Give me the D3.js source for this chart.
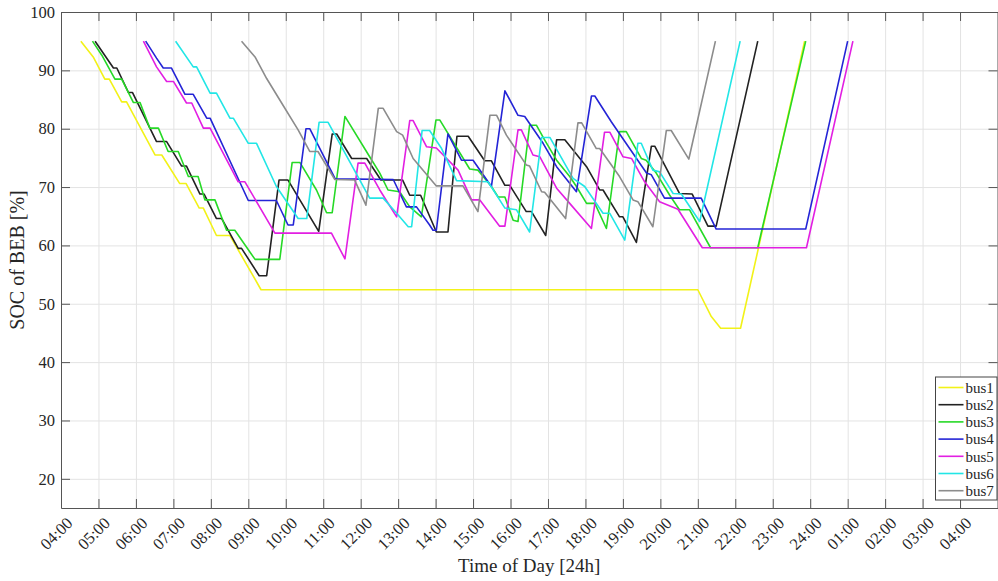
<!DOCTYPE html>
<html>
<head>
<meta charset="utf-8">
<script src="https://cdn.jsdelivr.net/npm/d3@7"></script>
<style>
  html, body { margin: 0; padding: 0; background: #fff; }
  svg { display: block; font-family: "Liberation Serif", "Times New Roman", serif; }
</style>
</head>
<body>
<div id="chart"></div>
<script>
///////////////////////////////////////////////////////////////////////////////
//////////////////// DATA /////////////////////////////////////////////////////
///////////////////////////////////////////////////////////////////////////////

// [hour of day (past 24 = next day), SOC %]
var bus1 = [[4.53,95],[4.86,92.3],[5.17,88.5],[5.29,88.5],[5.62,84.6],[5.75,84.6],
  [6.51,75.5],[6.69,75.5],[7.17,70.6],[7.34,70.6],[7.69,66.4],[7.80,66.4],
  [8.15,61.7],[8.51,61.7],[9.34,52.4],[21.0,52.4],[21.36,47.8],[21.61,45.8],
  [22.14,45.8],[23.85,95]];

var bus2 = [[4.91,95],[5.40,90.4],[5.49,90.4],[5.80,86.2],[5.91,86.2],[6.55,77.8],
  [6.82,77.8],[7.22,73.6],[7.35,73.6],[7.71,68.8],[7.82,68.8],[8.15,64.6],[8.29,64.6],
  [8.73,59.5],[8.82,59.5],[9.29,54.8],[9.49,54.8],[9.82,71.2],[10.06,71.2],[10.88,62.4],
  [11.24,79.1],[11.36,79.1],[11.76,74.9],[12.16,74.9],[12.54,71.2],[13.12,71.2],
  [13.31,68.6],[13.60,68.6],[14.02,62.3],[14.33,62.3],[14.57,78.7],[14.87,78.7],
  [15.31,74.5],[15.49,74.5],[15.85,70.3],[15.98,70.3],[16.42,65.8],[16.56,65.8],
  [16.94,61.7],[17.23,78.1],[17.45,78.1],[18.03,73.5],[18.38,69.5],[18.47,69.5],
  [18.91,64.9],[19.00,64.9],[19.36,60.5],[19.76,77.0],[19.85,77.0],[20.51,68.9],
  [20.85,68.8],[21.27,63.3],[21.49,63.3],[22.60,95]];

var bus3 = [[4.84,95],[5.09,92.6],[5.44,88.5],[5.62,88.5],[5.93,84.5],[6.11,84.5],
  [6.37,80.1],[6.60,80.1],[6.86,76.1],[7.13,76.1],[7.40,71.8],[7.66,71.8],[7.84,67.8],
  [8.11,67.8],[8.42,62.6],[8.64,62.6],[9.18,57.6],[9.84,57.6],[10.17,74.2],[10.38,74.2],
  [10.82,69.5],[11.09,65.6],[11.24,65.6],[11.58,82.1],[12.24,75.2],[12.51,72.4],
  [12.73,69.5],[13.04,69.2],[13.31,66.6],[13.62,64.9],[14.01,81.5],[14.11,81.5],
  [14.91,73.1],[15.13,72.9],[15.49,70.1],[15.67,68.3],[15.85,68.3],[16.07,64.3],
  [16.20,64.1],[16.51,80.6],[16.69,80.6],[16.91,78.1],[17.23,74.6],[17.58,71.8],
  [17.76,70.1],[18.03,67.2],[18.25,67.2],[18.56,62.9],[18.91,79.5],[19.09,79.5],
  [19.49,74.9],[19.62,74.6],[19.89,72.4],[20.25,68.6],[20.51,66.1],[20.78,66.1],
  [21.34,59.6],[22.60,59.6],[23.88,95]];

var bus4 = [[6.26,95],[6.55,92.1],[6.73,90.4],[6.95,90.4],[7.31,85.9],[7.53,85.9],
  [7.89,81.8],[7.98,81.8],[9.00,67.7],[9.75,67.7],[10.06,63.5],[10.20,63.5],[10.54,80.0],
  [10.64,80.0],[11.32,71.4],[12.87,71.3],[13.22,66.6],[13.49,66.6],[13.84,63.5],
  [13.93,62.6],[14.02,62.6],[14.33,79.1],[14.69,74.6],[15.00,74.6],[15.49,70.1],
  [15.85,86.5],[16.20,82.3],[16.38,82.1],[16.87,77.5],[17.23,73.5],[17.76,69.2],
  [18.16,85.6],[18.25,85.6],[18.69,81.2],[19.18,76.6],[19.63,72.4],[19.76,72.1],
  [20.11,68.1],[21.09,68.1],[21.49,62.8],[23.88,62.8],[25.0,95]];

var bus5 = [[6.20,95],[6.55,90.6],[6.82,88.1],[7.00,88.1],[7.35,84.4],[7.49,84.4],
  [7.80,80.1],[7.98,80.1],[8.73,70.9],[8.91,70.9],[9.71,62.1],[11.22,62.1],[11.58,57.7],
  [11.93,74.1],[12.11,74.1],[12.51,69.5],[12.96,64.9],[13.31,81.4],[13.40,81.4],
  [13.76,76.9],[14.02,76.7],[14.60,72.9],[14.96,67.8],[15.18,67.8],[15.71,63.3],
  [15.85,63.3],[16.20,79.8],[16.29,79.8],[16.60,75.5],[16.78,75.2],[17.23,69.8],
  [17.58,67.2],[18.16,62.9],[18.51,79.4],[18.65,79.4],[19.00,75.2],[19.23,74.9],
  [19.58,70.9],[19.98,67.5],[20.47,66.2],[21.12,59.6],[23.90,59.6],[25.14,95]];

var bus6 = [[7.06,95],[7.53,90.6],[7.62,90.6],[7.98,86.1],[8.15,86.1],[8.51,81.8],
  [8.60,81.8],[9.00,77.5],[9.22,77.5],[9.75,70.1],[10.33,64.6],[10.56,64.6],[10.89,81.1],
  [11.13,81.1],[11.49,76.9],[12.24,68.1],[12.60,68.1],[12.96,65.5],[13.27,63.2],
  [13.36,63.2],[13.64,79.7],[13.84,79.7],[14.16,76.6],[14.56,71.1],[15.40,70.9],
  [15.85,66.4],[16.16,66.1],[16.51,62.3],[16.83,78.5],[17.05,78.5],[17.67,71.5],
  [17.98,70.1],[18.47,65.5],[18.65,65.5],[19.05,60.9],[19.40,77.5],[19.49,77.5],
  [19.80,72.9],[19.98,72.6],[20.34,68.9],[20.56,68.8],[21.05,64.1],[22.13,95]];

var bus7 = [[8.82,95],[9.18,92.3],[9.49,88.6],[9.89,84.4],[10.33,79.8],[10.64,76.1],
  [10.86,76.1],[11.31,71.3],[11.84,71.2],[12.14,66.9],[12.47,83.5],[12.60,83.5],
  [12.96,79.5],[13.12,78.9],[13.40,74.9],[14.02,70.2],[14.73,70.2],[15.13,65.8],
  [15.45,82.3],[15.63,82.3],[15.89,78.9],[16.42,73.8],[16.51,73.6],[16.83,69.2],
  [16.91,69.1],[17.47,64.6],[17.80,81.0],[17.90,81.0],[18.29,76.6],[18.38,76.6],
  [18.91,71.8],[19.27,67.8],[19.40,67.5],[19.80,63.2],[20.16,79.7],[20.29,79.7],
  [20.76,74.8],[21.47,95]];

var busNames  = ["bus1", "bus2", "bus3", "bus4", "bus5", "bus6", "bus7"];
var busColors = ["#f2f218", "#222222", "#26d926", "#2424d6", "#e21fe2", "#22e6e6", "#8c8c8c"];
var busData   = [bus1, bus2, bus3, bus4, bus5, bus6, bus7];

var xTicks = d3.range(4, 29);
var xTickLabels = ["04:00","05:00","06:00","07:00","08:00","09:00","10:00","11:00",
  "12:00","13:00","14:00","15:00","16:00","17:00","18:00","19:00","20:00","21:00",
  "22:00","23:00","24:00","01:00","02:00","03:00","04:00"];
var yTicks = [20, 30, 40, 50, 60, 70, 80, 90, 100];

///////////////////////////////////////////////////////////////////////////////
//////////////////// CHART ////////////////////////////////////////////////////
///////////////////////////////////////////////////////////////////////////////

var W = 998, H = 581;
// plot box (window.top is reserved, so prefixed names)
var plotLeft = 61, plotRight = 997.5, plotTop = 12, plotBottom = 508;

var svg = d3.select("#chart").append("svg")
    .attr("width", W)
    .attr("height", H);

var x = d3.scaleLinear().domain([4, 29]).range([plotLeft, plotRight]);
var y = d3.scaleLinear().domain([15, 100]).range([plotBottom, plotTop]);

// grid
svg.append("g")
    .attr("transform", "translate(0," + plotBottom + ")")
    .call(d3.axisBottom(x).tickValues(xTicks).tickSize(-(plotBottom - plotTop)).tickFormat(""))
    .call(function(g) {
      g.select(".domain").remove();
      g.selectAll("line").attr("stroke", "#e3e3e3");
    });
svg.append("g")
    .attr("transform", "translate(" + plotLeft + ",0)")
    .call(d3.axisLeft(y).tickValues(yTicks).tickSize(-(plotRight - plotLeft)).tickFormat(""))
    .call(function(g) {
      g.select(".domain").remove();
      g.selectAll("line").attr("stroke", "#e3e3e3");
    });

// lines
var line = d3.line()
    .x(function(d) { return x(d[0]); })
    .y(function(d) { return y(d[1]); });

svg.append("g").selectAll("path")
    .data(busData)
    .enter().append("path")
      .attr("d", line)
      .attr("fill", "none")
      .attr("stroke", function(d, i) { return busColors[i]; })
      .attr("stroke-width", 1.6)
      .attr("stroke-linejoin", "round");

// axes (ticks inside, box all round)
var axisColor = "#555";
function styleAxis(g) {
  g.select(".domain").attr("stroke", axisColor);
  g.selectAll(".tick line").attr("stroke", axisColor);
  g.selectAll(".tick text").attr("fill", "#262626").style("font-size", "16.5px")
    .style("font-family", "Liberation Serif, serif");
}

var xAxis = svg.append("g")
    .attr("transform", "translate(0," + plotBottom + ")")
    .call(d3.axisBottom(x).tickValues(xTicks).tickSizeInner(-9).tickSizeOuter(0)
      .tickFormat(function(d, i) { return xTickLabels[i]; }))
    .call(styleAxis);
xAxis.selectAll(".tick text")
    .attr("text-anchor", "end")
    .attr("transform", "translate(8,12) rotate(-45)")
    .attr("dy", "0.35em")
    .attr("y", 0)
    .attr("x", 0);

svg.append("g")
    .attr("transform", "translate(0," + plotTop + ")")
    .call(d3.axisTop(x).tickValues(xTicks).tickSizeInner(-9).tickSizeOuter(0).tickFormat(""))
    .call(styleAxis);

svg.append("g")
    .attr("transform", "translate(" + plotLeft + ",0)")
    .call(d3.axisLeft(y).tickValues(yTicks).tickSizeInner(-9).tickSizeOuter(0))
    .call(styleAxis)
    .selectAll(".tick text").attr("x", -6);

svg.append("g")
    .attr("transform", "translate(" + plotRight + ",0)")
    .call(d3.axisRight(y).tickValues(yTicks).tickSizeInner(-9).tickSizeOuter(0).tickFormat(""))
    .call(styleAxis);

// axis titles
svg.append("text")
    .attr("x", (plotLeft + plotRight) / 2)
    .attr("y", 572)
    .attr("text-anchor", "middle")
    .attr("fill", "#262626")
    .style("font-size", "19px")
    .text("Time of Day [24h]");

svg.append("text")
    .attr("transform", "translate(24," + ((plotTop + plotBottom) / 2) + ") rotate(-90)")
    .attr("text-anchor", "middle")
    .attr("fill", "#262626")
    .style("font-size", "20px")
    .text("SOC of BEB [%]");

//////////// LEGEND ////////////

var legend = svg.append("g").attr("transform", "translate(935.5,377)");
legend.append("rect")
    .attr("width", 61.5)
    .attr("height", 123)
    .attr("fill", "#fff")
    .attr("stroke", "#444")
    .attr("stroke-width", 1);

var item = legend.selectAll("g.item")
    .data(busNames)
    .enter().append("g")
      .attr("class", "item")
      .attr("transform", function(d, i) { return "translate(0," + (10.5 + i * 17.2) + ")"; });
item.append("line")
    .attr("x1", 3).attr("x2", 28)
    .attr("stroke", function(d, i) { return busColors[i]; })
    .attr("stroke-width", 1.6);
item.append("text")
    .attr("x", 30)
    .attr("dy", "0.35em")
    .attr("fill", "#262626")
    .style("font-size", "15px")
    .text(function(d) { return d; });
</script>
</body>
</html>
